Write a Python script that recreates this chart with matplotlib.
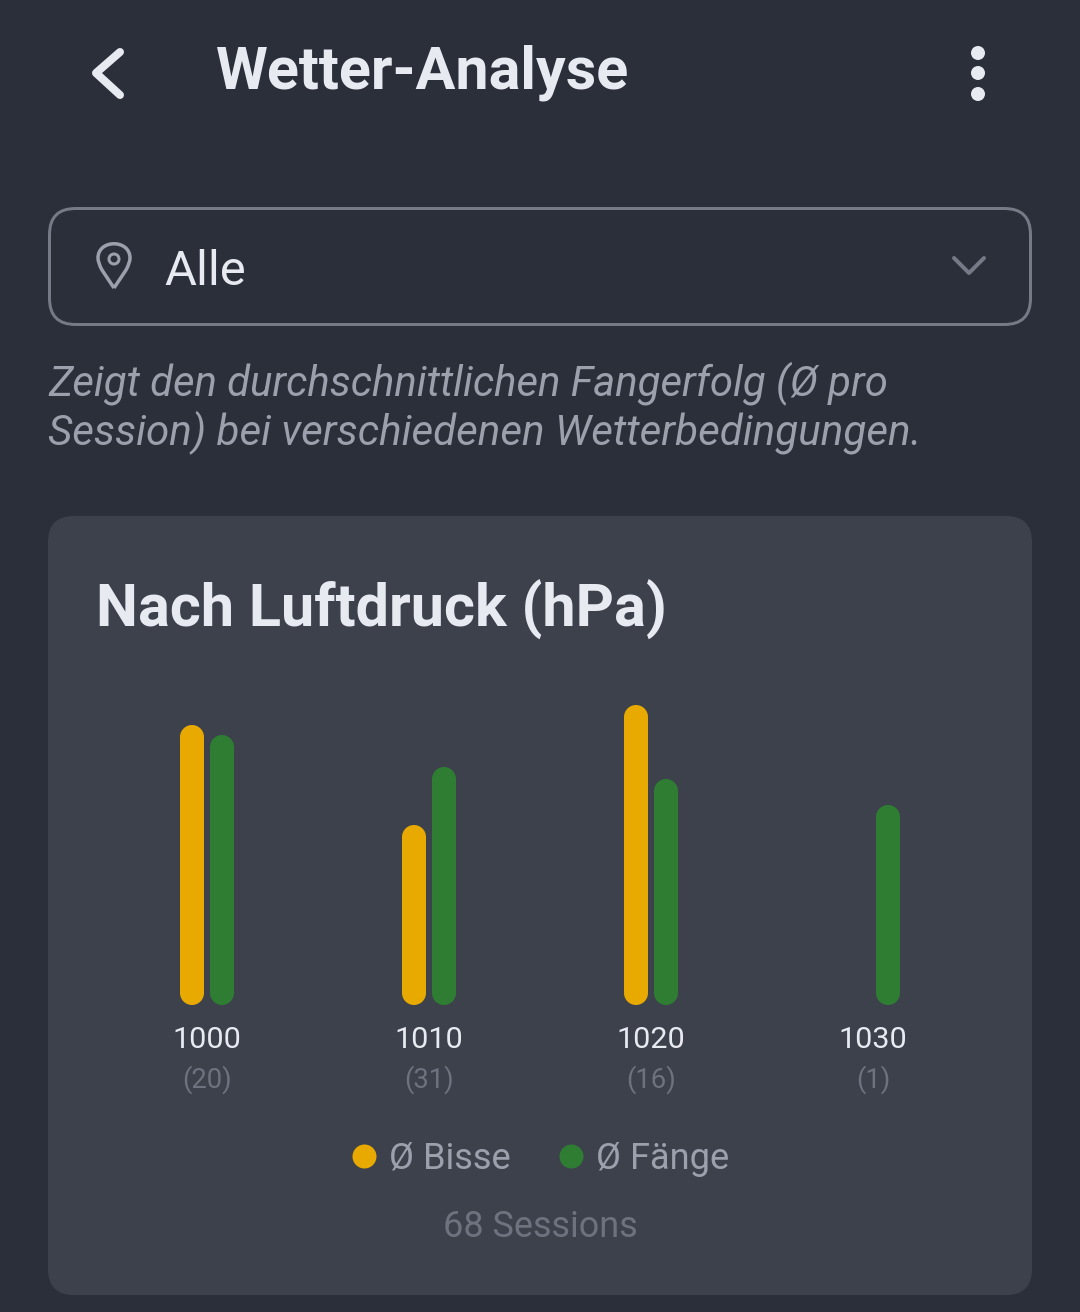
import matplotlib
matplotlib.use("Agg")
import matplotlib.pyplot as plt
from matplotlib.lines import Line2D
from matplotlib.patches import Circle, FancyBboxPatch, PathPatch
from matplotlib.path import Path

plt.rcParams["font.family"] = ["Roboto", "DejaVu Sans"]

pressure_labels = ["1000", "1010", "1020", "1030"]
session_counts = ["(20)", "(31)", "(16)", "(1)"]
avg_bites = [2.8, 1.8, 3.0, 0.0]
avg_catches = [2.7, 2.38, 2.26, 2.0]

BG = "#2b2f3a"
CARD = "#3c414c"
YELLOW = "#e8a900"
GREEN = "#2e7d32"
WHITE = "#e8eaf2"
GREY = "#9ca0ad"
DIM = "#6d727e"
BORDER = "#767a86"


def fs(px):
    # font size given in image pixels
    return px * 72 / 100


def lw(px):
    return px * 72 / 100


def pill_path(x, width, height, ry):
    # bar outline with fully round ends, in data coordinates
    rx = width / 2
    k = 0.5523
    mid = x + rx
    right = x + width
    verts = [
        (x, ry),
        (x, height - ry),
        (x, height - ry + k * ry), (mid - k * rx, height), (mid, height),
        (mid + k * rx, height), (right, height - ry + k * ry), (right, height - ry),
        (right, ry),
        (right, ry - k * ry), (mid + k * rx, 0), (mid, 0),
        (mid - k * rx, 0), (x, ry - k * ry), (x, ry),
    ]
    codes = [Path.MOVETO, Path.LINETO] + [Path.CURVE4] * 6 + [Path.LINETO] + [Path.CURVE4] * 6
    return Path(verts, codes)


fig = plt.figure(figsize=(10.8, 13.12), dpi=100, facecolor=BG)

# overlay in pixel coordinates for the app chrome around the chart
ui = fig.add_axes([0, 0, 1, 1])
ui.set_xlim(0, 1080)
ui.set_ylim(1312, 0)
ui.axis("off")

# header
ui.plot([120, 96, 120], [52, 73, 95], color=WHITE, lw=lw(8), solid_capstyle="round", solid_joinstyle="round")
ui.text(216, 73, "Wetter-Analyse", color=WHITE, fontsize=fs(59.3), fontweight="bold", va="center", ha="left")
for y in [53, 73, 94]:
    ui.add_patch(Circle((978, y), 7, color=WHITE, lw=0))

# dropdown
ui.add_patch(FancyBboxPatch((49.5, 208.5), 981, 116, boxstyle="round,pad=0,rounding_size=26",
                            fc="none", ec=BORDER, lw=lw(3)))
pin = Path(
    [(114, 288), (102, 270), (98, 263), (98, 258), (98, 239), (130, 239), (130, 258), (130, 263), (126, 270), (114, 288)],
    [Path.MOVETO, Path.LINETO, Path.CURVE3, Path.CURVE3, Path.CURVE4, Path.CURVE4, Path.CURVE4, Path.CURVE3, Path.CURVE3, Path.LINETO],
)
ui.add_patch(PathPatch(pin, fc="none", ec=GREY, lw=lw(3.5), joinstyle="round"))
ui.add_patch(Circle((114, 259), 5, fc="none", ec=GREY, lw=lw(3)))
ui.text(164, 272, "Alle", color=WHITE, fontsize=fs(49), va="center", ha="left")
ui.plot([954, 969, 984], [258, 273, 258], color=BORDER, lw=lw(4), solid_capstyle="round", solid_joinstyle="round")

# description
ui.text(48, 383.5, "Zeigt den durchschnittlichen Fangerfolg (Ø pro", color=GREY, fontsize=fs(41.9),
        style="italic", va="center", ha="left")
ui.text(48, 432.5, "Session) bei verschiedenen Wetterbedingungen.", color=GREY, fontsize=fs(42.1),
        style="italic", va="center", ha="left")

# card
ui.add_patch(FancyBboxPatch((48, 516), 984, 779, boxstyle="round,pad=0,rounding_size=26", fc=CARD, ec="none"))
ui.text(96, 610, "Nach Luftdruck (hPa)", color=WHITE, fontsize=fs(59.4), fontweight="bold", va="center", ha="left")
ui.text(540, 1227, "68 Sessions", color=DIM, fontsize=fs(36), va="center", ha="center")

# chart, 222 px per category and 100 px per y unit
ax = fig.add_axes([96 / 1080, (1312 - 1005) / 1312, 888 / 1080, 300 / 1312])
ax.patch.set_alpha(0)
ax.set_xlim(-0.5, 3.5)
ax.set_ylim(0, 3)
for side in ax.spines.values():
    side.set_visible(False)
ax.set_yticks([])
ax.set_xticks(range(len(pressure_labels)), pressure_labels)
ax.tick_params(axis="x", length=0, pad=14.8, labelcolor=WHITE, labelsize=fs(30.5))

bar_width = 24 / 222
offset = 15 / 222
for series, shift, color in [(avg_bites, -offset, YELLOW), (avg_catches, offset, GREEN)]:
    bars = ax.bar([i + shift for i in range(len(series))], series, width=bar_width, color=color)
    for bar in bars:
        bar.set_visible(False)
        if bar.get_height() == 0:
            continue
        ax.add_patch(PathPatch(pill_path(bar.get_x(), bar.get_width(), bar.get_height(), 0.12),
                               fc=color, ec="none", clip_on=False))

for i, count in enumerate(session_counts):
    ax.annotate(count, (i, 0), xytext=(0, -75 * 0.72), textcoords="offset points",
                ha="center", va="center", color=DIM, fontsize=fs(27.5))

handles = [
    Line2D([], [], ls="", marker="o", ms=24 * 0.72, mfc=YELLOW, mec="none", label="Ø Bisse"),
    Line2D([], [], ls="", marker="o", ms=24 * 0.72, mfc=GREEN, mec="none", label="Ø Fänge"),
]
fig.legend(handles=handles, ncol=2, frameon=False, loc="center",
           bbox_to_anchor=(540.5 / 1080, (1312 - 1159) / 1312), labelcolor=GREY, fontsize=fs(36.3),
           handlelength=0.66, handletextpad=0.36, columnspacing=1.33, borderpad=0)

fig.savefig("out.png", dpi=100, facecolor=BG)
